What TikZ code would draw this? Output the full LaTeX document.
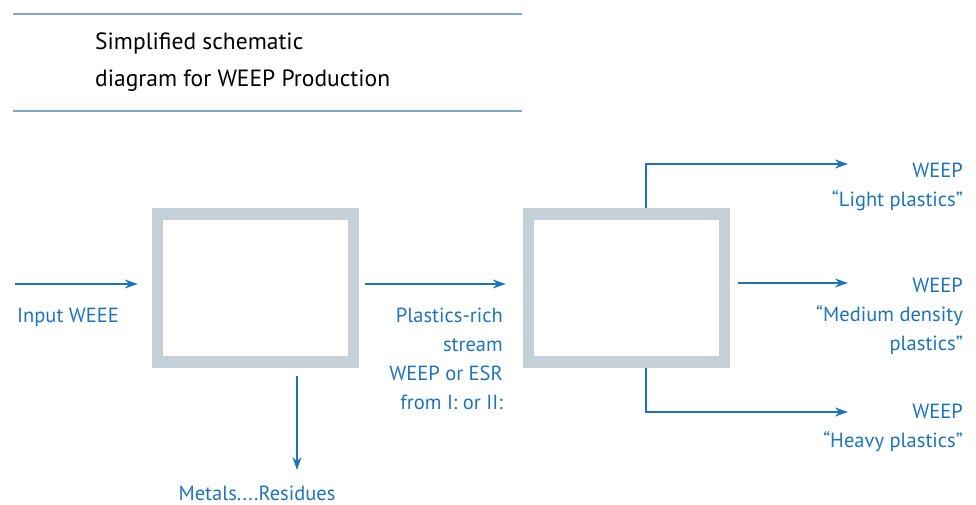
\documentclass[tikz,border=0pt]{standalone}
\usepackage{fontspec}
\setmainfont{PT Sans}
\usetikzlibrary{arrows.meta, positioning}
\usepackage{xcolor}
\definecolor{flowblue}{HTML}{1C75BC}
\definecolor{boxgrey}{HTML}{C5D0D9}
\definecolor{ruleblue}{HTML}{7BA9C6}

\begin{document}
\begin{tikzpicture}[
    x=1pt, y=-1pt,
    >={Stealth[length=13pt, width=9pt]},
    every node/.style={font=\fontsize{20.5}{29}\selectfont, text=flowblue, inner sep=0pt},
    unit/.style={rectangle, draw=boxgrey, line width=11.5pt, minimum width=196pt, minimum height=148pt},
    flow/.style={->, draw=flowblue, line width=1.9pt},
    rule/.style={draw=ruleblue, line width=1.2pt}
  ]
  \useasboundingbox (0,0) rectangle (976,505);

  % heading between two rules
  \draw[rule] (13,14) -- (522,14);
  \node[text=black, align=left, anchor=north west, font=\fontsize{23.5}{37}\selectfont] (title) at (95,33) {
    Simplified schematic\\
    diagram for WEEP Production
  };
  \draw[rule] (13,111) -- (522,111);

  % the two sorting stages
  \node[unit] (sep1) at (255.5,288) {};
  \node[unit] (sep2) at (626.5,288) {};

  % free ends of the flows
  \coordinate (in) at (15,284);
  \coordinate (residue) at (297,470);
  \coordinate (light) at (848,164);
  \coordinate (medium) at (848,283);
  \coordinate (heavy) at (848,412);

  \draw[flow, shorten >=14pt] (in) -- (in -| sep1.west);
  \draw[flow, shorten <=6pt, shorten >=17pt] (sep1.east |- in) -- (sep2.west |- in);
  \draw[flow, shorten <=8pt] (sep1.south -| residue) -- (residue);
  \draw[flow] ([xshift=19.5pt]sep2.north) |- (light);
  \draw[flow, shorten <=8pt] (sep2.east |- medium) -- (medium);
  \draw[flow] ([xshift=19.5pt]sep2.south) |- (heavy);

  % labels
  \node[anchor=base west] (input) at (17,322) {Input WEEE};
  \node[align=right, anchor=north east] (stream) at (503,308) {
    Plastics-rich\\
    stream\\
    WEEP or ESR\\
    from I: or II:
  };
  \node[anchor=base] (metals) at (257,500) {Metals....Residues};
  \node[align=right, anchor=north east] (lightlbl) at (963,163) {WEEP\\“Light plastics”};
  \node[align=right, anchor=north east] (mediumlbl) at (963,278) {WEEP\\“Medium density\\plastics”};
  \node[align=right, anchor=north east] (heavylbl) at (963,404) {WEEP\\“Heavy plastics”};

\end{tikzpicture}
\end{document}
